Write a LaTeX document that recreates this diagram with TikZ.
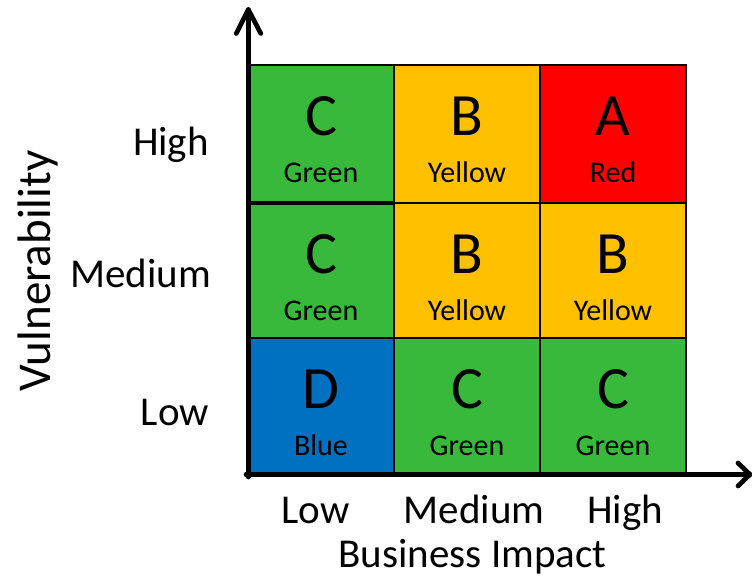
\documentclass[tikz,border=0pt]{standalone}
\usepackage{fontspec}
\setmainfont{Carlito}
\usetikzlibrary{calc}
\definecolor{cgreen}{RGB}{57,185,59}
\definecolor{cyellow}{RGB}{255,192,0}
\definecolor{cred}{RGB}{255,0,0}
\definecolor{cblue}{RGB}{0,112,192}
\tikzset{
  cell/.style={draw=black, line width=2pt, minimum width=146pt, inner sep=0pt, outer sep=0pt},
  bigletter/.style={anchor=base, inner sep=0pt, font=\fontsize{60}{60}\selectfont},
  small/.style={anchor=base, inner sep=0pt, font=\fontsize{30}{30}\selectfont},
  axlabel/.style={inner sep=0pt, font=\fontsize{41}{41}\selectfont},
  axis/.style={line width=4.7pt, line cap=round, line join=round}
}
\begin{document}
\begin{tikzpicture}[x=1pt, y=-1pt]
\useasboundingbox (0,0) rectangle (752,578);
% cells: row 1
\node[cell, fill=cgreen,  minimum height=138pt] (c11) at (321,134) {};
\node[cell, fill=cyellow, minimum height=138pt] (c12) at (467,134) {};
\node[cell, fill=cred,    minimum height=138pt] (c13) at (613,134) {};
% row 2
\node[cell, fill=cgreen,  minimum height=135pt] (c21) at (321,270.5) {};
\node[cell, fill=cyellow, minimum height=135pt] (c22) at (467,270.5) {};
\node[cell, fill=cyellow, minimum height=135pt] (c23) at (613,270.5) {};
% row 3
\node[cell, fill=cblue,   minimum height=136pt] (c31) at (321,406) {};
\node[cell, fill=cgreen,  minimum height=136pt] (c32) at (467,406) {};
\node[cell, fill=cgreen,  minimum height=136pt] (c33) at (613,406) {};
\draw[line width=3.5pt] (c11.south west) -- (c11.south east);
% texts
\foreach \c/\L/\T in {c11/C/Green, c12/B/Yellow, c13/A/Red,
                      c21/C/Green, c22/B/Yellow, c23/B/Yellow,
                      c31/D/Blue,  c32/C/Green,  c33/C/Green} {
  \node[bigletter] (\c L) at ($(\c.north)+(0,70.5)$) {\L};
  \node[small] (\c T) at ($(\c.north)+(0,117.5)$) {\T};
}
% axes
\coordinate (O) at (248.3,474.5);
\coordinate (ytip) at (248.3,9.5);
\coordinate (xtip) at (750,474.5);
\draw[axis] (O |- 0,477) -- (ytip);
\draw[axis] ($(ytip)+(-12,24)$) -- (ytip) -- ($(ytip)+(12.5,24)$);
\draw[axis] (O -| 246,0) -- (xtip);
\draw[axis] ($(xtip)+(-12,-11.5)$) -- (xtip) -- ($(xtip)+(-12,11.5)$);
% axis labels
\node[axlabel, anchor=base east] (vh) at (209,155) {High};
\node[axlabel, anchor=base east] (vm) at (211,287) {Medium};
\node[axlabel, anchor=base east] (vl) at (209,425) {Low};
\node[axlabel, anchor=base] (bl) at (315.5,523) {Low};
\node[axlabel, anchor=base] (bm) at (474,523) {Medium};
\node[axlabel, anchor=base] (bh) at (625,523) {High};
\node[axlabel, anchor=base] (bt) at (472.5,567.5) {Business Impact};
\node[inner sep=0pt, anchor=base, rotate=90, font=\fontsize{47}{47}\selectfont] (vt) at (50,271) {Vulnerability};
\end{tikzpicture}
\end{document}
